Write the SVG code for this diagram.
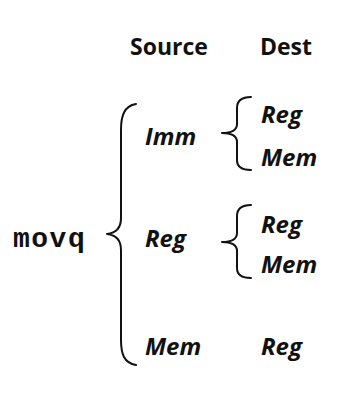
<svg xmlns="http://www.w3.org/2000/svg" width="349" height="397" viewBox="0 0 349 397">
  <style>
    .head { font-family: "Open Sans", "Liberation Sans", sans-serif; font-weight: bold; font-size: 23px; fill: #111; }
    .op { font-family: "Open Sans", "Liberation Sans", sans-serif; font-weight: bold; font-style: italic; font-size: 24px; fill: #111; }
    .mono { font-family: "Liberation Mono", "Courier New", monospace; font-weight: bold; font-size: 28px; letter-spacing: 1.5px; fill: #111; }
    .brace { fill: none; stroke: #111; stroke-width: 2; stroke-linecap: round; stroke-linejoin: round; }
  </style>
  <rect width="349" height="397" fill="#fff"/>

  <g id="headers">
    <text class="head" x="130" y="55">Source</text>
    <text class="head" x="260" y="55">Dest</text>
  </g>

  <g id="movq">
    <text class="mono" x="13" y="247">movq</text>
  </g>

  <g id="connectors">
    <path class="brace" d="M136,104 C124,106 121,116 121,130 L121,218 C121,228 116,233 107,234 C116,235 121,240 121,250 L121,340 C121,354 124,363 136,365"/>
    <path class="brace" d="M251,97 C242,97 237,100 237,108 L237,124 C237,130 232,133 222,133 C232,133 237,136 237,142 L237,160 C237,167 242,170 251,170"/>
    <path class="brace" d="M251,205 C242,205 237,208 237,216 L237,233 C237,239 232,242 222,242 C232,242 237,245 237,251 L237,268 C237,275 242,278 251,278"/>
  </g>

  <g id="src-imm">
    <text class="op" x="145" y="145">Imm</text>
  </g>
  <g id="src-reg">
    <text class="op" x="145" y="247">Reg</text>
  </g>
  <g id="src-mem">
    <text class="op" x="145" y="355">Mem</text>
  </g>

  <g id="dst-imm-reg">
    <text class="op" x="261" y="123">Reg</text>
  </g>
  <g id="dst-imm-mem">
    <text class="op" x="261" y="166">Mem</text>
  </g>
  <g id="dst-reg-reg">
    <text class="op" x="261" y="233">Reg</text>
  </g>
  <g id="dst-reg-mem">
    <text class="op" x="261" y="273">Mem</text>
  </g>
  <g id="dst-mem-reg">
    <text class="op" x="261" y="355">Reg</text>
  </g>
</svg>
